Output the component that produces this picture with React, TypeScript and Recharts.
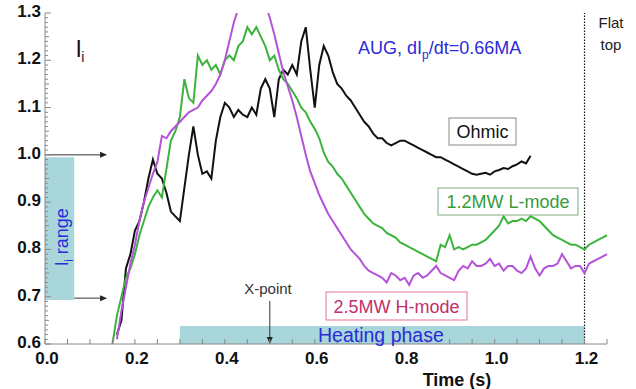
import React from 'react';
import { ComposedChart, Line, XAxis, YAxis, ReferenceArea, ReferenceLine } from 'recharts';

// time base (s)
const times = [
  0.15, 0.16, 0.17, 0.18, 0.19, 0.2, 0.21, 0.22, 0.23, 0.24,
  0.25, 0.26, 0.27, 0.28, 0.29, 0.3, 0.31, 0.32, 0.33, 0.34,
  0.35, 0.36, 0.37, 0.38, 0.39, 0.4, 0.41, 0.42, 0.43, 0.44,
  0.45, 0.46, 0.47, 0.48, 0.49, 0.5, 0.51, 0.52, 0.53, 0.54,
  0.55, 0.56, 0.57, 0.58, 0.59, 0.6, 0.61, 0.62, 0.63, 0.64,
  0.65, 0.66, 0.67, 0.68, 0.69, 0.7, 0.71, 0.72, 0.73, 0.74,
  0.75, 0.76, 0.77, 0.78, 0.79, 0.8, 0.81, 0.82, 0.83, 0.84,
  0.85, 0.86, 0.87, 0.88, 0.89, 0.9, 0.91, 0.92, 0.93, 0.94,
  0.95, 0.96, 0.97, 0.98, 0.99, 1.0, 1.01, 1.02, 1.03, 1.04,
  1.05, 1.06, 1.07, 1.08, 1.09, 1.1, 1.11, 1.12, 1.13, 1.14,
  1.15, 1.16, 1.17, 1.18, 1.19, 1.2, 1.21, 1.22, 1.23, 1.24,
  1.25,
];

const ohmic = [
  null, 0.62, 0.65, 0.76, 0.79, 0.84, 0.86, 0.9, 0.95, 0.99,
  0.96, 0.95, 0.92, 0.88, 0.87, 0.86, 0.93, 1.0, 1.06, 1.0,
  0.96, 0.965, 0.95, 1.03, 1.08, 1.11, 1.1, 1.08, 1.095, 1.085,
  1.08, 1.1, 1.085, 1.14, 1.16, 1.14, 1.08, 1.16, 1.18, 1.17,
  1.19, 1.17, 1.24, 1.27, 1.18, 1.1, 1.19, 1.23, 1.21, 1.175,
  1.15, 1.14, 1.125, 1.115, 1.1, 1.085, 1.07, 1.06, 1.045, 1.035,
  1.035, 1.025, 1.02, 1.025, 1.03, 1.03, 1.025, 1.02, 1.015, 1.01,
  1.005, 1.0, 0.995, 0.995, 0.99, 0.985, 0.98, 0.975, 0.97, 0.965,
  0.96, 0.958, 0.96, 0.962, 0.958, 0.965, 0.968, 0.972, 0.97, 0.976,
  0.98, 0.986, 0.982, 0.998, null, null, null, null, null, null,
  null, null, null, null, null, null, null, null, null, null,
  null,
];

const lmode = [
  0.6, 0.66, 0.7, 0.74, 0.76, 0.79, 0.83, 0.86, 0.89, 0.91,
  0.925, 0.91, 0.97, 1.03, 1.05, 1.08, 1.16, 1.12, 1.11, 1.21,
  1.19, 1.2, 1.18, 1.19, 1.17, 1.2, 1.21, 1.2, 1.23, 1.24,
  1.27, 1.255, 1.27, 1.25, 1.23, 1.2, 1.21, 1.18, 1.16, 1.15,
  1.135, 1.12, 1.1, 1.09, 1.07, 1.055, 1.035, 1.005, 0.985, 0.975,
  0.96, 0.95, 0.935, 0.92, 0.905, 0.89, 0.875, 0.865, 0.855, 0.85,
  0.845, 0.835, 0.83, 0.825, 0.815, 0.81, 0.805, 0.8, 0.795, 0.79,
  0.785, 0.78, 0.775, 0.81, 0.805, 0.83, 0.8, 0.805, 0.8, 0.805,
  0.81, 0.81, 0.815, 0.82, 0.83, 0.84, 0.85, 0.87, 0.855, 0.86,
  0.86, 0.865, 0.86, 0.87, 0.865, 0.86, 0.85, 0.84, 0.83, 0.825,
  0.82, 0.815, 0.81, 0.81, 0.805, 0.8, 0.81, 0.815, 0.82, 0.825,
  0.83,
];

const hmode = [
  null, 0.61, 0.67, 0.72, 0.77, 0.81, 0.86, 0.9, 0.93, 0.96,
  0.985, 1.04, 1.035, 1.05, 1.06, 1.07, 1.08, 1.09, 1.095, 1.1,
  1.115, 1.125, 1.135, 1.15, 1.17, 1.2, 1.24, 1.28, 1.31, 1.33,
  1.34, 1.35, 1.35, 1.34, 1.32, 1.29, 1.255, 1.215, 1.175, 1.145,
  1.115, 1.08, 1.04, 1.0, 0.965, 0.94, 0.915, 0.895, 0.875, 0.86,
  0.845, 0.83, 0.815, 0.8, 0.79, 0.78, 0.765, 0.755, 0.75, 0.745,
  0.74, 0.73, 0.75, 0.745, 0.735, 0.74, 0.725, 0.745, 0.75, 0.74,
  0.745, 0.755, 0.765, 0.75, 0.745, 0.74, 0.735, 0.755, 0.765, 0.76,
  0.775, 0.765, 0.765, 0.77, 0.78, 0.765, 0.77, 0.755, 0.765, 0.765,
  0.755, 0.75, 0.76, 0.785, 0.76, 0.745, 0.76, 0.765, 0.765, 0.77,
  0.79, 0.775, 0.76, 0.765, 0.765, 0.75, 0.77, 0.775, 0.78, 0.785,
  0.79,
];

const xLabels = [0, 0.2, 0.4, 0.6, 0.8, 1.0, 1.2];
const yLabels = [0.6, 0.7, 0.8, 0.9, 1.0, 1.1, 1.2, 1.3];

const data = times.map((t, i) => ({ t, ohmic: ohmic[i], lmode: lmode[i], hmode: hmode[i] }));

// minor tick positions
const xTicks = Array.from({ length: 26 }, (_, k) => k * 0.05);
const yTicks = Array.from({ length: 71 }, (_, k) => (60 + k) / 100);

const FONT = '"Liberation Sans", Arial, sans-serif';
const AXIS = '#888';
const TEAL = '#a9d6da';
const BLUE = '#2b2bd8';

const isMajor = (v: number, arr: number[]) => arr.some(a => Math.abs(a - v) < 1e-6);
const yLen = (v: number) => (isMajor(v, yLabels) ? 6 : Math.abs(v * 20 - Math.round(v * 20)) < 1e-6 ? 4 : 3);

const BottomTick = ({ x, y, payload }: any) => (
  <g>
    <line x1={x} x2={x} y1={y} y2={y - 5} stroke={AXIS} />
    {isMajor(payload.value, xLabels) && (
      <text x={x + 2} y={y + 20} textAnchor="middle" fontSize={17} fontWeight="bold" fill="#111" fontFamily={FONT}>
        {payload.value.toFixed(1)}
      </text>
    )}
  </g>
);

const TopTick = ({ x, y }: any) => <line x1={x} x2={x} y1={y} y2={y + 5} stroke={AXIS} />;

const LeftTick = ({ x, y, payload }: any) => (
  <g>
    <line x1={x} x2={x + yLen(payload.value)} y1={y} y2={y} stroke={AXIS} />
    {isMajor(payload.value, yLabels) && (
      <text x={x - 4} y={y + 4} textAnchor="end" fontSize={17} fontWeight="bold" fill="#111" fontFamily={FONT}>
        {payload.value.toFixed(1)}
      </text>
    )}
  </g>
);

const RightTick = ({ x, y, payload }: any) => (
  <line x1={x} x2={x - yLen(payload.value)} y1={y} y2={y} stroke={AXIS} />
);

// line with an arrow head at its second end
const Arrow = (props: any) => {
  const { x1, y1, x2, y2 } = props;
  const ang = Math.atan2(y2 - y1, x2 - x1);
  const s = 7;
  const w = 3;
  const bx = x2 - s * Math.cos(ang);
  const by = y2 - s * Math.sin(ang);
  const px = -Math.sin(ang) * w;
  const py = Math.cos(ang) * w;
  return (
    <g>
      <line x1={x1} y1={y1} x2={bx} y2={by} stroke="#333" strokeWidth={1} />
      <polygon points={`${x2},${y2} ${bx + px},${by + py} ${bx - px},${by - py}`} fill="#222" />
    </g>
  );
};

export default function App() {
  return (
    <div style={{ position: 'absolute', left: 0, top: 0, width: 636, height: 389, background: '#fff' }}>
      <ComposedChart width={636} height={389} data={data} margin={{ top: 13, right: 29, bottom: 0, left: 0 }}>
        <XAxis
          dataKey="t"
          type="number"
          domain={[0, 1.25]}
          ticks={xTicks}
          interval={0}
          height={45}
          tickLine={false}
          tickSize={0}
          tickMargin={0}
          axisLine={{ stroke: AXIS }}
          tick={<BottomTick />}
        />
        <XAxis
          xAxisId="top"
          orientation="top"
          type="number"
          dataKey="t"
          domain={[0, 1.25]}
          ticks={xTicks}
          interval={0}
          height={0}
          tickLine={false}
          tickSize={0}
          tickMargin={0}
          axisLine={{ stroke: AXIS }}
          tick={<TopTick />}
        />
        <YAxis
          type="number"
          domain={[0.6, 1.3]}
          allowDataOverflow
          ticks={yTicks}
          interval={0}
          width={45}
          tickLine={false}
          tickSize={0}
          tickMargin={0}
          axisLine={{ stroke: AXIS }}
          tick={<LeftTick />}
        />
        <YAxis
          yAxisId="right"
          orientation="right"
          type="number"
          domain={[0.6, 1.3]}
          ticks={yTicks}
          interval={0}
          width={0}
          tickLine={false}
          tickSize={0}
          tickMargin={0}
          axisLine={{ stroke: AXIS }}
          tick={<RightTick />}
        />

        <ReferenceArea x1={0} x2={0.065} y1={0.693} y2={0.995} fill={TEAL} fillOpacity={1} stroke="none" />
        <ReferenceArea x1={0.3} x2={1.2} y1={0.6} y2={0.638} fill={TEAL} fillOpacity={1} stroke="none" />
        <ReferenceLine x={1.2} stroke="#111" strokeWidth={1.2} strokeDasharray="1.5 1.5" />
        <ReferenceLine segment={[{ x: 0, y: 1.0 }, { x: 0.138, y: 1.0 }]} shape={<Arrow />} />
        <ReferenceLine segment={[{ x: 0.065, y: 0.697 }, { x: 0.138, y: 0.697 }]} shape={<Arrow />} />
        <ReferenceLine segment={[{ x: 0.5, y: 0.691 }, { x: 0.5, y: 0.6 }]} shape={<Arrow />} />

        <Line dataKey="ohmic" stroke="#111" strokeWidth={2} dot={false} isAnimationActive={false} />
        <Line dataKey="lmode" stroke="#3cb43c" strokeWidth={2} dot={false} isAnimationActive={false} />
        <Line dataKey="hmode" stroke="#b452d8" strokeWidth={2} dot={false} isAnimationActive={false} />
      </ComposedChart>

      <svg width={636} height={389} style={{ position: 'absolute', left: 0, top: 0, pointerEvents: 'none' }} fontFamily={FONT}>
        <text x={76} y={57} fontSize={24} fill="#111">
          l<tspan fontSize={14} dy={5}>i</tspan>
        </text>
        <text x={358} y={54} fontSize={18} fill={BLUE}>
          AUG, dI<tspan fontSize={12} dy={5}>p</tspan>
          <tspan dy={-5}>/dt=0.66MA</tspan>
        </text>
        <text x={611} y={28} fontSize={15} fill="#222" textAnchor="middle">Flat</text>
        <text x={611} y={50} fontSize={15} fill="#222" textAnchor="middle">top</text>

        <rect x={449} y={118} width={67} height={27} fill="#fff" stroke="#888" />
        <text x={482.5} y={138} fontSize={18} fill="#111" textAnchor="middle">Ohmic</text>

        <rect x={438} y={188} width={140} height={27} fill="#fff" stroke="#80aa80" />
        <text x={508} y={208} fontSize={18} fill="#3a9a3a" textAnchor="middle">1.2MW L-mode</text>

        <rect x={326} y={292} width={141} height={28} fill="#fff" stroke="#e07595" />
        <text x={396.5} y={313} fontSize={18} fill="#c0306a" textAnchor="middle">2.5MW H-mode</text>

        <text x={268} y={294} fontSize={15} fill="#333" textAnchor="middle">X-point</text>
        <text x={318} y={342} fontSize={19.5} fill={BLUE}>Heating phase</text>

        <text x={62} y={237} fontSize={18} fill={BLUE} textAnchor="middle" transform="rotate(-90 62 237)" dy={6}>
          l<tspan fontSize={12} dy={5}>i</tspan>
          <tspan dy={-5}> range</tspan>
        </text>

        <text x={457} y={386} fontSize={18} fontWeight="bold" fill="#111" textAnchor="middle">Time (s)</text>
      </svg>
    </div>
  );
}
